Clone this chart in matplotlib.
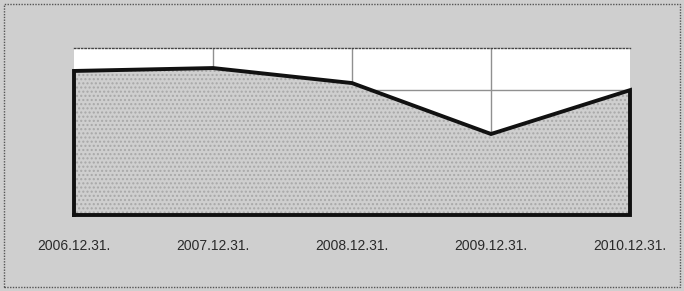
import matplotlib
matplotlib.use("Agg")
import matplotlib.pyplot as plt
from matplotlib.patches import Rectangle

categories = ["2006.12.31.", "2007.12.31.", "2008.12.31.", "2009.12.31.", "2010.12.31."]
values = [3.45, 3.52, 3.16, 1.94, 2.99]
y_max = 4.0

bg = "#cfcfcf"
fig = plt.figure(figsize=(6.84, 2.91), dpi=100)
fig.patch.set_facecolor(bg)
fig.patches.append(Rectangle((4 / 684, 4 / 291), 676 / 684, 283 / 291, transform=fig.transFigure,
                             fill=False, edgecolor="#555555", linewidth=1, linestyle=(0, (1, 1))))

ax = fig.add_axes([74 / 684, 1 - 215 / 291, 556 / 684, 167 / 291])
ax.set_facecolor("white")
x = list(range(len(categories)))
ax.set_xlim(0, len(categories) - 1)
ax.set_ylim(0, y_max)

for xi in x[1:-1]:
    ax.axvline(xi, color="#909090", linewidth=1, zorder=1)
for yv in [1, 2, 3]:
    ax.axhline(yv, color="#909090", linewidth=1, zorder=1)

ax.fill_between(x, 0, values, facecolor=bg, edgecolor="none", zorder=2)
ax.fill_between(x, 0, values, facecolor="none", edgecolor="#a8a8a8", hatch="....", linewidth=0, zorder=2)
outline_x = [x[0]] + x + [x[-1], x[0]]
outline_y = [0] + values + [0, 0]
ax.plot(outline_x, outline_y, color="#111111", linewidth=2.8, zorder=3, clip_on=False,
        solid_joinstyle="miter")

for s in ["left", "right", "bottom"]:
    ax.spines[s].set_visible(False)
ax.spines["top"].set_color("#444444")
ax.spines["top"].set_linestyle((0, (1, 1.5)))
ax.spines["top"].set_linewidth(1)

ax.set_xticks(x)
ax.set_xticklabels(categories, fontsize=10, color="#2a2a2a", family="Liberation Sans")
ax.tick_params(axis="x", length=0, pad=17)
ax.set_yticks([])

fig.savefig("out.png", dpi=100, facecolor=bg)
